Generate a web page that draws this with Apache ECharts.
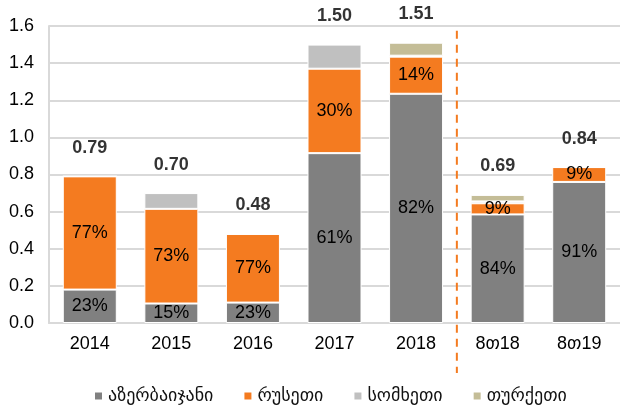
<!DOCTYPE html>
<html><head><meta charset="utf-8">
<script src="https://cdn.jsdelivr.net/npm/echarts@6/dist/echarts.min.js"></script>
<style>html,body{margin:0;padding:0;background:#fff}#c{width:620px;height:407px}</style>
</head><body><div id="c"></div>
<script>
const categories = ['2014','2015','2016','2017','2018','8თ18','8თ19'];
const azerbaijan = [0.18, 0.105, 0.11, 0.915, 1.235, 0.585, 0.76];
const russia     = [0.61, 0.51, 0.37, 0.455, 0.20, 0.06, 0.08];
const armenia    = [0, 0.085, 0, 0.13, 0.005, 0.01, 0];
const turkey     = [0, 0, 0, 0, 0.07, 0.035, 0];
const totals     = ['0.79','0.70','0.48','1.50','1.51','0.69','0.84'];
const azPct      = ['23%','15%','23%','61%','82%','84%','91%'];
const ruPct      = ['77%','73%','77%','30%','14%','9%','9%'];
const seriesNames = ['აზერბაიჯანი','რუსეთი','სომხეთი','თურქეთი'];

const FONT = 'Liberation Sans, Arial, DejaVu Sans, sans-serif';
const chart = echarts.init(document.getElementById('c'));
const mk = (name, data, color, pct) => ({
  type:'bar', stack:'s', barWidth:54,
  name, data, itemStyle:{color, borderColor:'#fff', borderWidth:1},
  label: pct ? {show:true, position:'inside', color:'#000', fontSize:18, fontFamily:FONT,
    formatter: p => pct[p.dataIndex]} : {show:false}
});
chart.setOption({
  animation:false,
  grid:{left:49, right:-4, top:26, bottom:84},
  legend:{bottom:-3, left:88, itemWidth:9, itemHeight:9, itemGap:29, icon:'rect',
    textStyle:{fontSize:18, color:'#111', fontFamily:'DejaVu Sans, sans-serif'},
    data: seriesNames},
  xAxis:{type:'category', data:categories,
    axisLine:{show:true, lineStyle:{color:'#d9d9d9', width:2}}, axisTick:{show:false},
    axisLabel:{color:'#000', fontSize:18, fontFamily:FONT, margin:12}},
  yAxis:{type:'value', min:0, max:1.6, interval:0.2,
    axisLine:{show:true, lineStyle:{color:'#d9d9d9', width:2}},
    axisLabel:{color:'#000', fontSize:18, fontFamily:FONT, margin:15, formatter:v=>v.toFixed(1)},
    splitLine:{lineStyle:{color:'#d9d9d9', width:2}}},
  series:[
    mk(seriesNames[0], azerbaijan, '#808080', azPct),
    mk(seriesNames[1], russia, '#f47b20', ruPct),
    mk(seriesNames[2], armenia, '#c0c0c0', null),
    mk(seriesNames[3], turkey, '#c4bd97', null),
    {type:'scatter', name:'total', data: totals.map(Number), symbolSize:1,
      itemStyle:{color:'rgba(0,0,0,0)'}, silent:true,
      label:{show:true, position:'top', distance:19, color:'#000', fontWeight:'bold', fontSize:18, fontFamily:FONT,
        formatter:p=>totals[p.dataIndex]}}
  ]
});
const xa = chart.convertToPixel({xAxisIndex:0}, '2018');
const xb = chart.convertToPixel({xAxisIndex:0}, '8თ18');
const xm = (xa + xb)/2;
const yTop = chart.convertToPixel({yAxisIndex:0}, 1.575);
const yBot = chart.convertToPixel({yAxisIndex:0}, 0) + 50;
chart.setOption({graphic:[{type:'line', shape:{x1:xm, y1:yTop, x2:xm, y2:yBot},
  style:{stroke:'#f47b20', lineWidth:2, lineDash:[8,6]}, z:10}]});
</script></body></html>
